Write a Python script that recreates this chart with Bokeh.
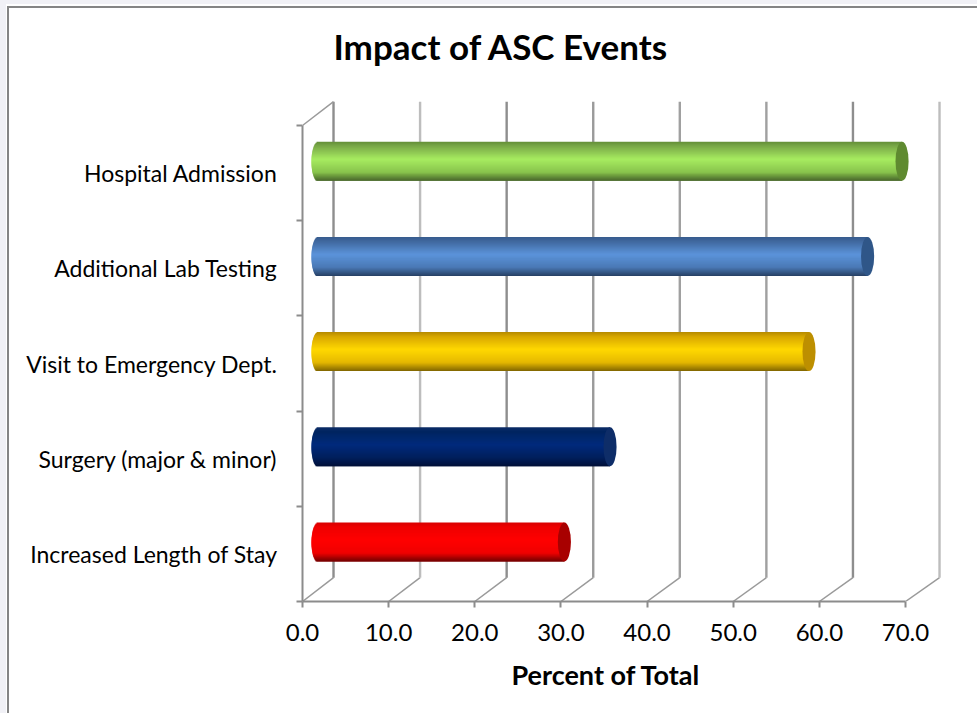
from bokeh.embed import file_html
from bokeh.models import FixedTicker, Range1d, Title
from bokeh.plotting import figure
from bokeh.resources import INLINE

categories = ["Increased Length of Stay", "Surgery (major & minor)", "Visit to Emergency Dept.",
              "Additional Lab Testing", "Hospital Admission"]
percent = [28.6, 33.9, 57.0, 63.8, 67.8]
x_ticks = [0, 10, 20, 30, 40, 50, 60, 70]
x_tick_labels = ["0.0", "10.0", "20.0", "30.0", "40.0", "50.0", "60.0", "70.0"]

# shading of each cylinder from its top edge to its bottom edge, and its end-cap colour
shades = [
    [(0.0, "#d80000"), (0.12, "#ee0000"), (0.45, "#ff0000"), (0.78, "#f00000"), (1.0, "#700000")],
    [(0.0, "#0c2c66"), (0.12, "#002460"), (0.45, "#002a7c"), (0.78, "#001f5c"), (1.0, "#000f38")],
    [(0.0, "#b58a00"), (0.12, "#d8a800"), (0.45, "#ffd800"), (0.78, "#e5b800"), (1.0, "#7d6400")],
    [(0.0, "#375b8c"), (0.12, "#41699f"), (0.45, "#5b93da"), (0.78, "#4a79b5"), (1.0, "#263f63")],
    [(0.0, "#648f38"), (0.12, "#7aa948"), (0.45, "#a7ec60"), (0.78, "#88c44c"), (1.0, "#48662a")],
]
cap_colors = ["#a80000", "#0e2d68", "#bd8f00", "#2f5688", "#5f8a30"]
grid_colors = ["#8e8e8e", "#bdbdbd", "#8e8e8e", "#9a9a9a", "#a0a0a0", "#a0a0a0", "#8e8e8e", "#bdbdbd"]

AXIS_GREY = "#8c8c8c"
DEPTH_X, DEPTH_Y = 3.6, 0.25     # offset of the back wall from the front plane
BACK_STRETCH = 1.005             # back wall is drawn slightly wider than the front axis
BAR_THICK = 0.41
CAP_HALF = 0.76
STRIPS = 40

PX_PER_X = (905 - 302) / 70
PX_PER_Y = (601 - 125) / 5

p = figure(width=977, height=713, output_backend="svg", toolbar_location=None,
           min_border_left=302, min_border_right=0, min_border_top=80, min_border_bottom=112,
           x_range=Range1d(0, (977 - 302) / PX_PER_X),
           y_range=Range1d(0, (601 - 80) / PX_PER_Y),
           background_fill_color=None, border_fill_color=None, outline_line_color=None)
p.grid.visible = False

# page margin and the chart's frame, painted behind the transparent canvas
p.styles = {"background": "linear-gradient(#858585,#858585) 7px 6px / 2px 100% no-repeat, "
                          "linear-gradient(#858585,#858585) 7px 6px / 100% 2px no-repeat, "
                          "linear-gradient(#ffffff,#ffffff) 6px 4px / 100% 100% no-repeat, "
                          "#f1f1f6"}

p.add_layout(Title(text="Impact of ASC Events", text_font="Lato", text_font_style="bold",
                   text_font_size="35px", text_color="black", align="left", offset=31,
                   standoff=27), "above")

# floor lines and back-wall gridlines
for v, c in zip(x_ticks, grid_colors):
    back = v * BACK_STRETCH + DEPTH_X
    p.line([v, back], [0, DEPTH_Y], line_color="#9a9a9a", line_width=1.5)
    p.line([back, back], [DEPTH_Y, 5 + DEPTH_Y], line_color=c, line_width=2.4)
p.line([0, DEPTH_X], [5, 5 + DEPTH_Y], line_color="#9a9a9a", line_width=1.5)


def mix(stops, t):
    for (t0, c0), (t1, c1) in zip(stops, stops[1:]):
        if t <= t1:
            f = (t - t0) / (t1 - t0)
            rgb = [round(int(c0[i:i + 2], 16) * (1 - f) + int(c1[i:i + 2], 16) * f) for i in (1, 3, 5)]
            return "#%02x%02x%02x" % tuple(rgb)
    return stops[-1][1]


# cylinders: thin horizontal strips rounded on the left, with a flat ellipse closing the right end
for i, (v, stops, cap) in enumerate(zip(percent, shades, cap_colors)):
    yc = i + 0.5 + DEPTH_Y / 2
    step = BAR_THICK / STRIPS
    for k in range(STRIPS):
        t = (k + 0.5) / STRIPS
        u = 2 * t - 1
        # each strip reaches down past its neighbour, so no seam shows between them
        p.quad(left=[DEPTH_X / 2 - CAP_HALF * (1 - u * u) ** 0.5], right=[v + DEPTH_X / 2],
               top=[yc + BAR_THICK / 2 - k * step],
               bottom=[yc + BAR_THICK / 2 - min(k + 2, STRIPS) * step],
               fill_color=mix(stops, t), fill_alpha=1, line_color=None)
    p.ellipse(x=[v + DEPTH_X / 2], y=[yc], width=2 * CAP_HALF, height=BAR_THICK,
              fill_color=cap, fill_alpha=1, line_color=None)

# x axis
xa = p.xaxis[0]
xa.bounds = (0, 70)
xa.ticker = FixedTicker(ticks=x_ticks)
xa.major_label_overrides = {t: s for t, s in zip(x_ticks, x_tick_labels)}
xa.major_label_text_font = "Lato"
xa.major_label_text_font_size = "24px"
xa.major_label_text_color = "black"
xa.major_label_standoff = 16
xa.axis_line_color = AXIS_GREY
xa.axis_line_width = 2
xa.major_tick_line_color = AXIS_GREY
xa.major_tick_line_width = 2
xa.major_tick_in = 0
xa.major_tick_out = 6
xa.minor_tick_line_color = None

# axis title sits under the axis, centred on the 0-70 span rather than the whole frame
p.add_layout(Title(text="Percent of Total", text_font="Lato", text_font_style="bold",
                   text_font_size="27px", text_color="black", align="left", offset=209,
                   standoff=25), "below")

# y axis: labels centred between the tick marks
ya = p.yaxis[0]
ya.bounds = (0, 5)
centres = [i + 0.5 for i in range(5)]
ya.ticker = FixedTicker(ticks=centres, minor_ticks=list(range(6)))
ya.major_label_overrides = {c: s for c, s in zip(centres, categories)}
ya.major_label_text_font = "Lato"
ya.major_label_text_font_size = "23px"
ya.major_label_text_color = "black"
ya.major_label_standoff = 19
ya.major_tick_line_color = None
ya.major_tick_in = 0
ya.major_tick_out = 0
ya.axis_line_color = AXIS_GREY
ya.axis_line_width = 2
ya.minor_tick_line_color = AXIS_GREY
ya.minor_tick_line_width = 2
ya.minor_tick_in = 0
ya.minor_tick_out = 6

open("out.html", "w").write(file_html(p, INLINE))
